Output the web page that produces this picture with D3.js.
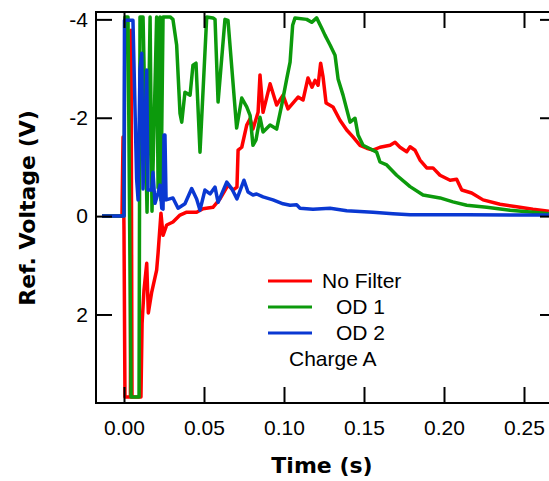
<!DOCTYPE html>
<html>
<head>
<meta charset="utf-8">
<script src="https://cdn.jsdelivr.net/npm/d3@7"></script>
<style>
  body { margin: 0; background: #fff; }
  text { font-family: "Liberation Sans", Arial, sans-serif; }
</style>
</head>
<body>
<div id="chart"></div>
<script>
// time (s) and reference voltage (V)
const noFilterT = [-0.01375, -0.00125, -0.0006, 0, 0.0006, 0.0040, 0.0044, 0.0050, 0.0106, 0.0113, 0.0125, 0.0142, 0.0152, 0.0173, 0.0204, 0.0213, 0.0231, 0.0244, 0.0267, 0.0306, 0.035, 0.0392, 0.0454, 0.0494, 0.0556, 0.06, 0.065, 0.0681, 0.0706, 0.0713, 0.0736, 0.0767, 0.0788, 0.0806, 0.0838, 0.085, 0.0869, 0.0913, 0.0954, 0.0994, 0.1025, 0.1088, 0.1119, 0.115, 0.1175, 0.1194, 0.1213, 0.1229, 0.1244, 0.1263, 0.1306, 0.135, 0.1392, 0.1431, 0.1475, 0.1517, 0.1556, 0.16, 0.1663, 0.1694, 0.1725, 0.1767, 0.1788, 0.1819, 0.185, 0.1892, 0.1931, 0.1975, 0.2038, 0.2079, 0.2111, 0.2173, 0.2244, 0.235, 0.2454, 0.2556, 0.2656];
const noFilterV = [0, 0, -1.61, 0.28, 3.68, 3.68, -3.78, 3.68, 3.68, 2.18, 1.50, 0.96, 1.97, 1.55, 1.10, 0.75, -0.06, 0.39, 0.18, 0.12, -0.02, -0.08, -0.08, -0.15, -0.18, -0.35, -0.63, -0.53, -0.59, -1.34, -1.40, -1.85, -1.98, -1.77, -2.11, -2.87, -2.11, -2.69, -2.26, -2.46, -2.18, -2.42, -2.36, -2.81, -2.62, -2.76, -2.66, -3.11, -2.83, -2.30, -2.22, -1.95, -1.75, -1.61, -1.44, -1.38, -1.34, -1.40, -1.44, -1.50, -1.40, -1.31, -1.41, -1.34, -1.14, -0.98, -0.98, -0.83, -0.73, -0.75, -0.53, -0.47, -0.33, -0.24, -0.19, -0.14, -0.10];

const od1T = [-0.01375, 0, 0.0006, 0.0025, 0.0044, 0.0094, 0.0100, 0.0119, 0.0144, 0.0163, 0.0175, 0.0204, 0.0213, 0.0225, 0.0231, 0.0244, 0.0288, 0.0306, 0.0329, 0.035, 0.0361, 0.0381, 0.0413, 0.0431, 0.045, 0.0475, 0.0517, 0.0556, 0.0569, 0.0588, 0.0631, 0.065, 0.0704, 0.0736, 0.0767, 0.0788, 0.0806, 0.0825, 0.085, 0.0869, 0.0913, 0.0954, 0.0986, 0.1017, 0.1038, 0.1054, 0.1069, 0.1142, 0.1173, 0.1204, 0.1236, 0.1256, 0.1288, 0.1319, 0.1338, 0.1369, 0.1413, 0.1444, 0.1463, 0.1494, 0.1538, 0.1579, 0.16, 0.1642, 0.1704, 0.1788, 0.1869, 0.1975, 0.2056, 0.2142, 0.2267, 0.2413, 0.2556, 0.2656];
const od1V = [0, 0, -4.05, -4.05, 3.68, 3.68, -4.05, -4.05, -0.08, -4.05, -0.10, -4.05, -0.57, -4.05, -0.33, -4.05, -4.05, -4.0, -3.48, -2.09, -1.91, -2.52, -2.46, -3.07, -3.11, -1.30, -4.05, -4.03, -4.0, -2.32, -4.0, -3.98, -1.79, -2.40, -2.22, -2.05, -1.44, -1.55, -2.01, -1.71, -1.85, -1.77, -2.26, -2.79, -3.13, -3.88, -4.03, -4.0, -3.94, -4.03, -3.82, -3.68, -3.48, -3.27, -2.79, -2.46, -1.91, -1.99, -1.65, -1.44, -1.37, -1.30, -1.10, -1.04, -0.83, -0.60, -0.43, -0.37, -0.29, -0.22, -0.18, -0.12, -0.08, -0.05];

const od2T = [-0.01375, 0, 0.0003, 0.0056, 0.0079, 0.0088, 0.01, 0.0111, 0.0119, 0.0142, 0.015, 0.0173, 0.0181, 0.0194, 0.0213, 0.0225, 0.0236, 0.0244, 0.025, 0.0256, 0.0263, 0.0306, 0.0338, 0.0381, 0.0423, 0.0454, 0.0475, 0.0506, 0.0538, 0.0569, 0.0588, 0.0642, 0.0673, 0.0706, 0.075, 0.0775, 0.0806, 0.0829, 0.0869, 0.0931, 0.0994, 0.1038, 0.1079, 0.11, 0.1181, 0.1288, 0.1392, 0.1556, 0.1681, 0.1788, 0.2142, 0.2656];
const od2V = [0, 0, -3.98, -3.98, -0.75, -0.33, -2.99, -3.31, -0.55, -2.97, -0.53, -0.53, -0.89, -0.26, -0.47, -0.63, -0.16, -0.14, -1.65, -1.65, -0.33, -0.37, -0.16, -0.25, -0.56, -0.35, -0.12, -0.53, -0.45, -0.59, -0.28, -0.69, -0.56, -0.35, -0.73, -0.49, -0.43, -0.45, -0.39, -0.33, -0.25, -0.22, -0.23, -0.16, -0.14, -0.16, -0.11, -0.08, -0.05, -0.03, -0.03, -0.02];

const seriesNames = ['No Filter', 'OD 1', 'OD 2'];
const seriesColors = ['#ff0000', '#0c9a0c', '#0a38d2'];
const xTicks = [0, 0.05, 0.10, 0.15, 0.20, 0.25];
const yTicks = [-4, -2, 0, 2];
const noteLabel = 'Charge A';

const width = 549, height = 481;
const plot = { left: 96, top: 12, right: 556, bottom: 403 };

const svg = d3.select('#chart')
  .append('svg')
  .attr('width', width)
  .attr('height', height);

const x = d3.scaleLinear().domain([-0.0175, 0.27]).range([plot.left, plot.right]);
const y = d3.scaleLinear().domain([-4.15, 3.8]).range([plot.top, plot.bottom]);

svg.append('clipPath').attr('id', 'clip')
  .append('rect')
  .attr('x', plot.left).attr('y', plot.top)
  .attr('width', plot.right - plot.left).attr('height', plot.bottom - plot.top);

const series = [
  { T: noFilterT, V: noFilterV },
  { T: od1T, V: od1V },
  { T: od2T, V: od2V }
].map((s, i) => ({ name: seriesNames[i], color: seriesColors[i], pts: s.T.map((t, j) => [t, s.V[j]]) }));

const line = d3.line().x(d => x(d[0])).y(d => y(d[1]));

svg.append('g')
  .attr('clip-path', 'url(#clip)')
  .selectAll('path')
  .data(series)
  .enter().append('path')
  .attr('fill', 'none')
  .attr('stroke', d => d.color)
  .attr('stroke-width', 3.5)
  .attr('stroke-linejoin', 'round')
  .attr('d', d => line(d.pts));

// axes, ticks pointing inward on all four sides
const styleAxis = g => {
  g.select('.domain').remove();
  g.selectAll('.tick line').attr('stroke', '#000').attr('stroke-width', 2);
  g.selectAll('.tick text').attr('fill', '#000').attr('font-size', 21)
    .attr('font-family', '"Liberation Sans", Arial, sans-serif');
};

svg.append('g')
  .attr('transform', `translate(0,${plot.bottom})`)
  .call(d3.axisBottom(x).tickValues(xTicks).tickSize(-16).tickPadding(17).tickFormat(d3.format('.2f')))
  .call(styleAxis);

svg.append('g')
  .attr('transform', `translate(0,${plot.top})`)
  .call(d3.axisTop(x).tickValues(xTicks).tickSize(-16).tickFormat(''))
  .call(styleAxis);

svg.append('g')
  .attr('transform', `translate(${plot.left},0)`)
  .call(d3.axisLeft(y).tickValues(yTicks).tickSize(-16).tickPadding(8).tickFormat(d => String(d)))
  .call(styleAxis);

svg.append('g')
  .attr('transform', `translate(${plot.right},0)`)
  .call(d3.axisRight(y).tickValues(yTicks).tickSize(-16).tickFormat(''))
  .call(styleAxis);

svg.append('rect')
  .attr('x', plot.left).attr('y', plot.top)
  .attr('width', plot.right - plot.left).attr('height', plot.bottom - plot.top)
  .attr('fill', 'none').attr('stroke', '#000').attr('stroke-width', 2);

// axis titles
svg.append('text')
  .attr('x', 322).attr('y', 473)
  .attr('text-anchor', 'middle')
  .style('font-family', '"DejaVu Sans", sans-serif')
  .attr('font-weight', 'bold').attr('font-size', 22)
  .text('Time (s)');

svg.append('text')
  .attr('transform', 'translate(35,208) rotate(-90)')
  .attr('text-anchor', 'middle')
  .style('font-family', '"DejaVu Sans", sans-serif')
  .attr('font-weight', 'bold').attr('font-size', 22)
  .text('Ref. Voltage (V)');

// legend
const legend = svg.append('g');
const legendRows = [288, 314, 340];
const legendTextX = [322, 336, 336];
series.forEach((s, i) => {
  legend.append('line')
    .attr('x1', 268).attr('x2', 312)
    .attr('y1', legendRows[i] - 7).attr('y2', legendRows[i] - 7)
    .attr('stroke', s.color).attr('stroke-width', 3);
  legend.append('text')
    .attr('x', legendTextX[i]).attr('y', legendRows[i])
    .attr('font-size', 21)
    .text(s.name);
});
legend.append('text')
  .attr('x', 289).attr('y', 366)
  .attr('font-size', 21)
  .text(noteLabel);
</script>
</body>
</html>
